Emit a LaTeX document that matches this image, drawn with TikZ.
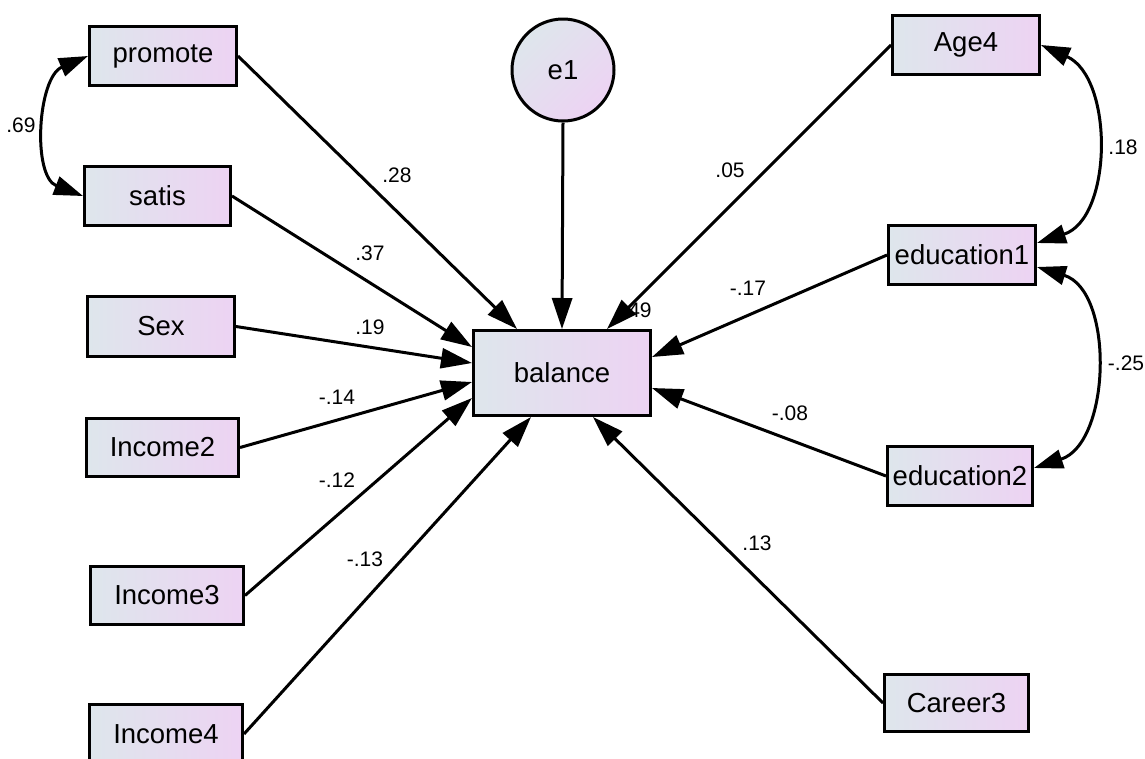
\documentclass[tikz,border=0pt]{standalone}
\usepackage{fontspec}
\setmainfont{Liberation Sans}
\usetikzlibrary{arrows.meta}
\definecolor{boxL}{RGB}{222,230,236}
\definecolor{boxR}{RGB}{237,211,243}
\tikzset{
  varbox/.style={draw=black, line width=3pt, rectangle, inner sep=0pt,
    left color=boxL, right color=boxR, minimum height=59pt,
    font=\fontsize{27.5}{31}\selectfont},
  errc/.style={draw=black, line width=3pt, circle, inner sep=0pt,
    top color=boxL, bottom color=boxR, shading angle=45, minimum size=102pt,
    font=\fontsize{27.5}{31}\selectfont},
  lbl/.style={inner sep=0pt, font=\fontsize{21}{25}\selectfont},
  path/.style={draw=black, line width=3pt, -{Triangle[length=31pt,width=20pt]}},
  cov/.style={draw=black, line width=3pt, {Triangle[length=29pt,width=19pt]}-{Triangle[length=29pt,width=19pt]}}
}
\begin{document}
\begin{tikzpicture}[x=1pt,y=1pt]
\useasboundingbox (0,0) rectangle (1145,-758);
\clip (0,0) rectangle (1145,-758);
% nodes
\node[varbox, minimum width=147pt] (promote) at (163,-56) {promote};
\node[varbox, minimum width=146pt] (satis) at (157.5,-196) {satis};
\node[varbox, minimum width=147pt, minimum height=60pt] (Sex) at (161,-326.5) {Sex};
\node[varbox, minimum width=152pt, minimum height=58pt] (Income2) at (162.5,-447.5) {Income2};
\node[varbox, minimum width=153pt, minimum height=58pt] (Income3) at (167,-595.5) {Income3};
\node[varbox, minimum width=153pt] (Income4) at (166,-734) {Income4};
\node[varbox, minimum width=177pt, minimum height=85pt] (balance) at (562,-373) {balance};
\node[errc] (e1) at (563,-70) {e1};
\node[varbox, minimum width=147pt] (Age4) at (966,-45) {Age4};
\node[varbox, minimum width=147pt] (education1) at (962,-255) {education1};
\node[varbox, minimum width=145pt] (education2) at (960,-476) {education2};
\node[varbox, minimum width=144pt, minimum height=57pt] (Career3) at (956.5,-703) {Career3};
% labels
\node[lbl] (l28) at (397,-175) {.28};
\node[lbl] (l37) at (370,-253) {.37};
\node[lbl] (l19) at (370,-327) {.19};
\node[lbl] (l14) at (337,-397) {-.14};
\node[lbl] (l12) at (337,-480) {-.12};
\node[lbl] (l13a) at (365,-559) {-.13};
\node[lbl] (l05) at (730,-170) {.05};
\node[lbl] (l49) at (637,-310) {.49};
\node[lbl] (l17) at (748,-288) {-.17};
\node[lbl] (l08) at (790,-413) {-.08};
\node[lbl] (l13b) at (757,-543) {.13};
\node[lbl] (l69) at (21,-125) {.69};
\node[lbl] (l18) at (1123,-147) {.18};
\node[lbl] (l25) at (1126,-363) {-.25};
% regression paths
\draw[path] (promote.east) -- ([xshift=45pt]balance.north west);
\draw[path] (e1.south) -- (balance.north);
\draw[path] (Age4.west) -- ([xshift=-45pt]balance.north east);
\draw[path] (satis.east) -- ([yshift=26pt]balance.west);
\draw[path] (Sex.east) -- ([yshift=10pt]balance.west);
\draw[path] (Income2.east) -- ([yshift=-9pt]balance.west);
\draw[path] (Income3.east) -- ([yshift=-25pt]balance.west);
\draw[path] (Income4.east) -- ([xshift=-31pt]balance.south);
\draw[path] (Career3.west) -- ([xshift=31pt]balance.south);
\draw[path] (education1.west) -- ([yshift=16pt]balance.east);
\draw[path] (education2.west) -- ([yshift=-15pt]balance.east);
% covariances
\draw[cov] (promote.west) to[out=203,in=159,looseness=1.0] (satis.west);
\draw[cov] (Age4.east) to[out=-24,in=18,looseness=1.03] ([yshift=12pt]education1.east);
\draw[cov] ([yshift=-12pt]education1.east) to[out=-17,in=18,looseness=1.03] ([yshift=8pt]education2.east);
\end{tikzpicture}
\end{document}
